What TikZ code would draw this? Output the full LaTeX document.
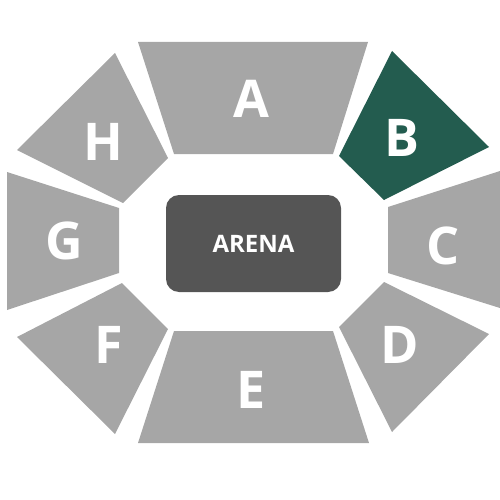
\documentclass[tikz,border=0pt]{standalone}
\usepackage{fontspec}
\setmainfont{Open Sans}
\usetikzlibrary{positioning}
\definecolor{seatgray}{HTML}{A6A6A6}
\definecolor{seatgreen}{HTML}{235C4F}
\definecolor{arenagray}{HTML}{555555}

\begin{document}
\begin{tikzpicture}[
    x=1pt, y=-1pt,
    seat/.style={fill=seatgray},
    label/.style={text=white, font=\fontsize{52}{52}\selectfont\bfseries, inner sep=0pt},
    stage/.style={fill=arenagray, rounded corners=13pt, minimum width=175pt, minimum height=97pt,
                  text=white, font=\fontsize{24}{24}\selectfont\bfseries, inner sep=0pt}
]
\useasboundingbox (0,0) rectangle (500,500);

% sections, clockwise from the top
\fill[seat]       (138,42) -- (368,42) -- (333,154) -- (174,154) -- cycle;
\fill[seatgreen]  (392,51) -- (489,147) -- (384,200) -- (339,156) -- cycle;
\fill[seat]       (388,207) -- (500,171) -- (500,308) -- (388,273) -- cycle;
\fill[seat]       (384,282) -- (489,334) -- (392,432) -- (339,327) -- cycle;
\fill[seat]       (174,331) -- (333,331) -- (369,443) -- (138,443) -- cycle;
\fill[seat]       (122,283) -- (168,329) -- (115,434) -- (17,337) -- cycle;
\fill[seat]       (7,172) -- (119,208) -- (119,273) -- (7,310) -- cycle;
\fill[seat]       (115,53) -- (168,158) -- (123,203) -- (17,150) -- cycle;

\node[stage] (arena) at (253.5,243.5) {ARENA};

\node[label] (secA) at (251,99)  {A};
\node[label] (secB) at (402,138) {B};
\node[label] (secC) at (443,246) {C};
\node[label] (secD) at (400,345) {D};
\node[label] (secE) at (251,390) {E};
\node[label] (secF) at (109,345) {F};
\node[label] (secG) at (64,241)  {G};
\node[label] (secH) at (103,142) {H};
\end{tikzpicture}
\end{document}
